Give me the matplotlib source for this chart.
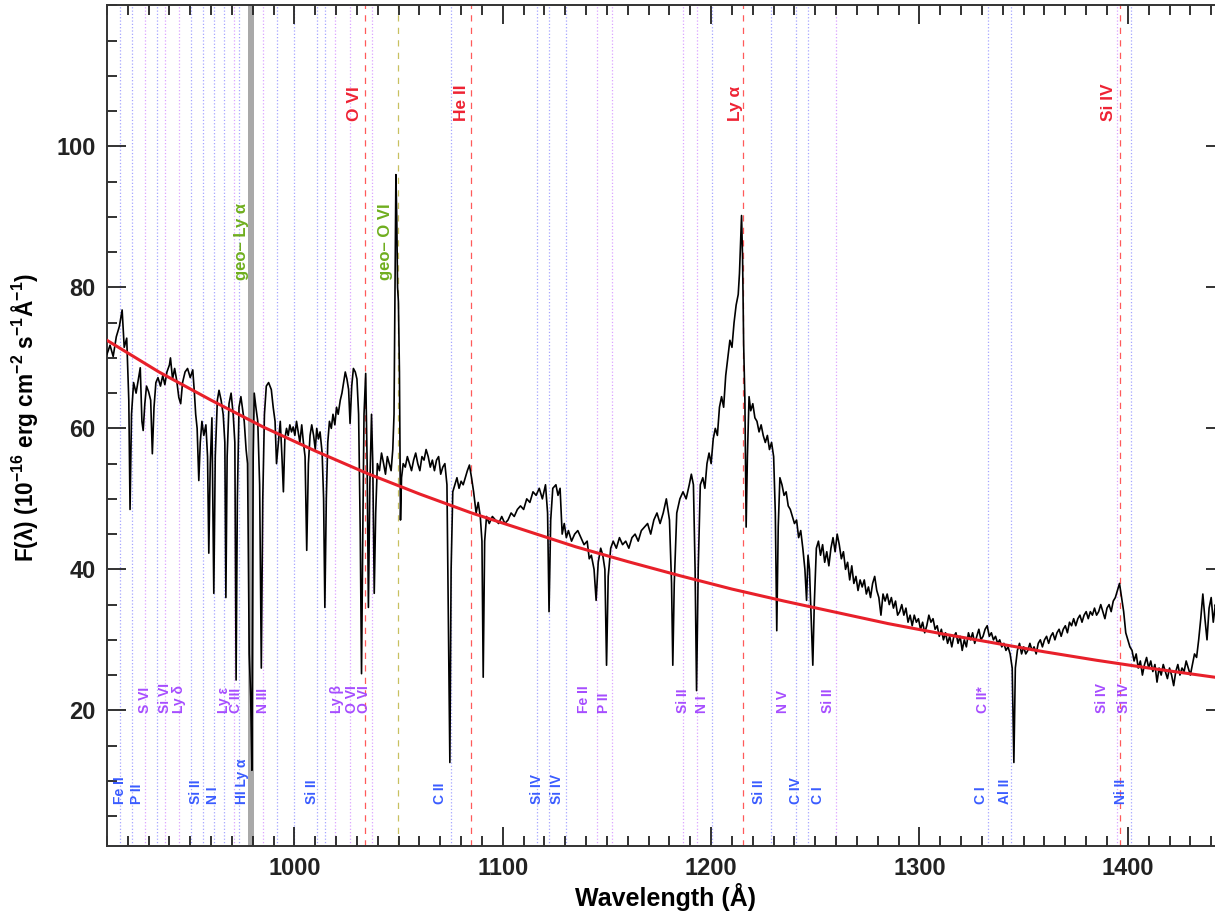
import matplotlib
matplotlib.use('Agg')
import matplotlib.pyplot as plt
from matplotlib.ticker import MultipleLocator

plt.rcParams['font.family'] = ['Liberation Sans', 'DejaVu Sans']
plt.rcParams['font.weight'] = 'bold'
plt.rcParams['mathtext.fontset'] = 'custom'
plt.rcParams['mathtext.rm'] = 'Liberation Sans:bold'
plt.rcParams['mathtext.bf'] = 'Liberation Sans:bold'
plt.rcParams['mathtext.default'] = 'bf'

# spectrum (wavelength in A, flux in 1e-16 erg/cm2/s/A)
wave = [910.0, 911.5, 913.0, 914.5, 916.0, 917.3, 918.3, 919.5, 920.5, 921.1, 921.8, 922.8, 924.0, 925.0, 926.0,
        926.8, 927.4, 928.2, 929.0, 930.0, 931.0, 931.8, 932.6, 933.5, 934.5, 935.7, 936.8, 937.8, 938.8, 940.0,
        940.5, 941.5, 942.5, 943.5, 944.5, 945.4, 946.3, 947.5, 948.7, 950.0, 951.2, 952.0, 952.6, 953.3, 954.1,
        954.8, 955.6, 956.5, 957.5, 958.3, 958.9, 959.6, 960.4, 961.3, 962.0, 963.0, 963.8, 964.8, 965.8, 966.6,
        967.1, 967.7, 968.6, 969.6, 970.6, 971.4, 972.0, 972.6, 973.4, 974.3, 975.2, 975.9, 976.8, 977.5, 978.3,
        979.0, 979.6, 980.2, 980.7, 981.5, 982.4, 983.3, 984.1, 984.8, 985.6, 986.5, 987.6, 988.9, 989.8, 990.7,
        991.4, 992.3, 993.2, 994.0, 994.7, 995.4, 996.2, 997.0, 997.8, 998.6, 999.4, 1000.2, 1001.0, 1001.8, 1002.6,
        1003.5, 1004.3, 1005.1, 1005.9, 1006.7, 1007.5, 1008.3, 1009.2, 1010.0, 1010.7, 1011.5, 1012.3, 1013.3, 1014.0, 1014.6,
        1015.3, 1016.0, 1016.8, 1017.7, 1018.5, 1019.4, 1020.2, 1021.0, 1022.0, 1022.8, 1023.6, 1024.4, 1025.2, 1026.0, 1026.7,
        1027.5, 1028.3, 1029.2, 1030.0, 1030.8, 1031.6, 1032.2, 1032.8, 1033.4, 1034.2, 1034.9, 1035.5, 1036.2, 1037.0, 1037.6,
        1038.3, 1039.0, 1039.8, 1040.8, 1041.8, 1042.8, 1043.7, 1044.6, 1045.5, 1046.4, 1047.2, 1047.8, 1048.3, 1048.7, 1049.1,
        1049.5, 1049.9, 1050.4, 1050.9, 1051.4, 1052.2, 1053.2, 1054.2, 1055.2, 1056.2, 1057.2, 1058.2, 1059.2, 1060.2, 1061.2,
        1062.2, 1063.2, 1064.2, 1065.2, 1066.2, 1067.2, 1068.2, 1069.2, 1070.2, 1071.2, 1072.2, 1073.2, 1074.0, 1074.6, 1075.2,
        1076.0, 1077.0, 1078.0, 1079.0, 1080.0, 1081.0, 1082.0, 1083.0, 1084.0, 1085.0, 1086.0, 1087.2, 1088.2, 1089.2, 1090.0,
        1090.6, 1091.3, 1092.2, 1093.5, 1095.0, 1096.5, 1098.0, 1099.5, 1101.0, 1102.5, 1104.0, 1105.5, 1107.0, 1108.5, 1110.0,
        1111.5, 1113.0, 1114.5, 1116.0, 1117.5, 1119.0, 1120.5, 1121.5, 1122.2, 1123.0, 1124.0, 1125.5, 1126.5, 1127.5, 1128.5,
        1129.5, 1130.5, 1131.5, 1133.0, 1134.5, 1136.0, 1137.5, 1139.0, 1140.5, 1141.5, 1142.5, 1143.8, 1144.8, 1145.8, 1147.0,
        1148.0, 1149.0, 1149.8, 1150.6, 1151.8, 1153.0, 1154.5, 1156.0, 1157.5, 1159.0, 1160.5, 1162.0, 1163.5, 1165.0, 1166.5,
        1168.0, 1169.5, 1171.0, 1172.5, 1174.0, 1175.5, 1177.0, 1178.5, 1180.0, 1181.0, 1181.6, 1182.3, 1183.5, 1185.0, 1186.5,
        1188.0, 1189.5, 1190.5, 1191.5, 1192.3, 1193.0, 1193.8, 1194.8, 1196.0, 1197.0, 1198.0, 1199.0, 1200.0, 1201.0, 1202.0,
        1203.0, 1204.0, 1205.0, 1206.0, 1207.0, 1208.0, 1209.0, 1210.0, 1211.0, 1212.0, 1213.0, 1213.6, 1214.1,
        1214.6, 1215.1, 1215.6, 1216.2, 1216.8, 1217.4, 1218.2, 1219.0,
        1220.0, 1221.0, 1222.0, 1223.0, 1224.0, 1225.0, 1226.0, 1227.0, 1228.0, 1229.0, 1230.0, 1230.8, 1231.5, 1232.2, 1233.0,
        1234.0, 1235.0, 1236.0, 1237.0, 1238.0, 1239.0, 1240.0, 1241.0, 1242.0, 1243.0, 1244.0, 1245.0, 1245.8, 1246.5, 1247.2,
        1248.0, 1248.8, 1249.5, 1250.5, 1251.5, 1252.5, 1253.5, 1254.5, 1255.5, 1256.5, 1257.5, 1258.5, 1259.5, 1260.5, 1261.5,
        1262.5, 1263.5, 1264.5, 1265.5, 1266.5, 1267.5, 1268.5, 1269.5, 1270.5, 1271.5, 1272.5, 1273.5, 1274.5, 1275.5, 1276.5,
        1277.5, 1278.5, 1279.5, 1280.5, 1281.5, 1282.5, 1283.5, 1284.5, 1285.5, 1286.5, 1287.5, 1288.5, 1289.5, 1290.5, 1291.5,
        1292.5, 1293.5, 1294.5, 1295.5, 1296.5, 1297.5, 1298.5, 1299.5, 1300.5, 1301.5, 1302.5, 1303.5, 1304.5, 1305.5, 1306.5,
        1307.5, 1308.5, 1309.5, 1310.5, 1311.5, 1312.5, 1313.5, 1314.5, 1315.5, 1316.5, 1317.5, 1318.5, 1319.5, 1320.5, 1321.5,
        1322.5, 1323.5, 1324.5, 1325.5, 1326.5, 1327.5, 1328.5, 1329.5, 1330.5, 1331.5, 1332.5, 1333.5, 1334.5, 1335.5, 1336.5,
        1337.5, 1338.5, 1339.5, 1340.5, 1341.5, 1342.5, 1343.5, 1344.5, 1345.3, 1346.0, 1347.0, 1348.0, 1349.0, 1350.0, 1351.0,
        1352.0, 1353.0, 1354.0, 1355.0, 1356.0, 1357.0, 1358.0, 1359.0, 1360.0, 1361.0, 1362.0, 1363.0, 1364.0, 1365.0, 1366.0,
        1367.0, 1368.0, 1369.0, 1370.0, 1371.0, 1372.0, 1373.0, 1374.0, 1375.0, 1376.0, 1377.0, 1378.0, 1379.0, 1380.0, 1381.0,
        1382.0, 1383.0, 1384.0, 1385.0, 1386.0, 1387.0, 1388.0, 1389.0, 1390.0, 1391.0, 1392.0, 1393.0, 1394.0, 1395.0, 1396.0,
        1397.0, 1398.0, 1399.0, 1400.0, 1401.0, 1402.0, 1403.0, 1404.0, 1405.0, 1406.0, 1407.0, 1408.0, 1409.0, 1410.0, 1411.0,
        1412.0, 1413.0, 1414.0, 1415.0, 1416.0, 1417.0, 1418.0, 1419.0, 1420.0, 1421.0, 1422.0, 1423.0, 1424.0, 1425.0, 1426.0,
        1427.0, 1428.0, 1429.0, 1430.0, 1431.0, 1432.0, 1433.0, 1434.0, 1435.0, 1436.0, 1437.0, 1438.0, 1439.0, 1440.0, 1441.0,
        1442.0, 1443.0, 1444.0, 1445.0, 1446.5]
flux = [70.5, 71.8, 70.2, 73.0, 74.5, 76.8, 71.5, 72.8, 64.0, 48.5, 62.0, 66.5, 65.0, 66.8, 68.6,
        61.0, 59.7, 63.5, 66.0, 65.2, 64.0, 56.4, 63.0, 66.5, 67.2, 66.0, 67.5, 66.2, 68.0, 69.0,
        70.0, 67.0, 68.5, 66.8, 64.4, 63.5, 66.5, 68.0, 68.5, 67.2, 68.3, 65.0, 62.0, 60.0, 52.6,
        58.0, 61.0, 59.0, 60.5, 56.0, 42.3, 55.0, 61.5, 36.6, 56.0, 64.0, 65.4, 64.0, 62.0, 58.0,
        36.0, 56.0, 63.5, 65.0, 62.0, 58.0, 24.3, 50.0, 63.0, 64.5, 62.5, 61.0, 57.0, 55.0, 28.0,
        22.0, 11.5, 56.0, 65.0, 63.0, 61.0, 52.0, 26.0, 50.0, 62.0, 66.0, 66.5, 65.5, 63.0, 61.0,
        55.0, 58.0, 61.0, 56.0, 51.0, 58.5, 60.0, 59.0, 60.5, 59.5, 60.2, 59.0, 61.0, 59.5, 58.0,
        60.5, 58.0, 56.0, 42.7, 55.0, 59.0, 60.5, 59.0, 57.0, 60.0, 58.5, 59.5, 56.5, 50.0, 34.6,
        50.0, 58.0, 61.0, 60.0, 62.0, 60.5, 63.0, 62.0, 64.0, 65.0, 66.5, 68.0, 67.0, 65.5, 60.7,
        66.0, 68.5, 68.0, 67.0, 62.0, 45.0, 25.2, 45.0, 62.0, 67.8, 55.0, 34.6, 52.0, 62.0, 55.0,
        36.6, 48.0, 55.0, 54.0, 56.5, 55.0, 53.5, 56.0, 55.0, 54.0, 57.0, 62.0, 80.0, 96.0, 90.0,
        80.0, 78.0, 68.0, 47.0, 53.0, 55.0, 54.5, 56.0, 55.0, 54.0, 55.5, 56.5, 55.0, 54.0, 56.0,
        55.5, 57.0, 56.0, 54.5, 55.5, 54.0, 55.5, 56.0, 53.5, 54.5, 55.0, 52.0, 30.0, 12.6, 40.0,
        51.0, 52.0, 53.0, 51.5, 52.5, 52.0, 53.0, 54.0, 54.8, 53.0, 51.0, 48.0, 49.5, 47.5, 44.0,
        24.7, 44.0, 47.5, 46.5, 47.5, 47.0, 46.5, 47.5, 46.5, 47.0, 48.0, 47.5, 48.5, 49.0, 48.5,
        50.0, 49.5, 51.0, 50.5, 51.5, 50.0, 52.0, 48.0, 34.0, 47.0, 51.5, 52.0, 50.5, 51.5, 45.0,
        46.5, 44.5, 45.5, 44.0, 45.0, 45.5, 44.5, 43.5, 44.0, 41.5, 42.0, 40.0, 35.6, 41.0, 43.0,
        42.0, 40.0, 26.4, 39.0, 43.0, 44.0, 43.0, 44.5, 43.5, 44.0, 43.0, 44.5, 45.0, 44.0, 45.5,
        46.0, 46.5, 45.0, 47.0, 48.0, 46.5, 48.0, 50.0, 47.0, 38.0, 26.4, 38.0, 48.0, 50.0, 51.0,
        50.0, 52.0, 53.5, 52.0, 40.0, 22.8, 40.0, 52.0, 53.0, 51.5, 55.0, 56.5, 55.0, 58.5, 60.0,
        59.0, 63.0, 64.5, 63.0, 67.5, 70.0, 72.5, 71.5, 75.0, 77.5, 79.0, 82.0, 86.0,
        90.2, 84.0, 72.0, 64.0, 46.0, 56.0, 64.5, 62.5,
        63.5, 61.5, 61.0, 59.5, 60.5, 59.0, 58.0, 59.0, 57.0, 58.0, 56.0, 48.0, 31.3, 46.0, 53.0,
        52.0, 50.5, 51.0, 49.0, 48.5, 47.5, 46.5, 47.0, 44.5, 45.5, 43.0, 40.0, 35.6, 42.0, 40.0,
        33.0, 26.4, 35.0, 43.0, 44.0, 42.0, 43.5, 41.0, 42.5, 40.5, 43.0, 44.5, 42.5, 45.0, 43.5,
        41.5, 42.5, 40.0, 41.0, 38.5, 40.5, 38.0, 39.0, 37.0, 38.5, 37.5, 38.5, 36.5, 37.5, 36.0,
        38.0, 39.0, 37.0, 36.0, 33.5, 36.5, 35.5, 36.5, 35.0, 36.0, 34.5, 35.5, 33.5, 34.0, 35.0,
        33.5, 34.5, 32.5, 33.5, 32.0, 33.5, 32.5, 33.0, 31.5, 32.5, 31.0, 32.0, 33.5, 32.5, 33.0,
        31.5, 32.0, 30.5, 31.5, 30.0, 31.0, 29.5, 30.5, 29.0, 30.5, 31.0, 29.5, 30.5, 28.5, 30.0,
        29.0, 31.0, 30.0, 31.0, 29.5, 30.5, 31.5, 30.0, 30.5, 31.5, 32.0, 30.5, 31.0, 30.0, 30.5,
        29.5, 30.0, 29.0, 29.5, 28.5, 29.0, 28.0, 26.0, 12.6, 26.0, 28.5, 29.5, 28.0, 29.0, 28.0,
        28.5, 29.5, 28.5, 29.0, 28.0, 29.5, 30.0, 29.0, 30.0, 30.5, 29.5, 30.5, 31.0, 30.0, 31.0,
        31.5, 30.5, 31.5, 32.0, 31.0, 32.5, 32.0, 33.0, 32.0, 33.0, 33.5, 32.5, 33.5, 34.0, 33.0,
        34.0, 33.5, 34.5, 33.5, 34.0, 35.0, 34.0, 33.0, 34.5, 35.0, 34.0, 35.5, 36.0, 37.0, 38.0,
        36.0, 34.0, 31.0, 30.0, 29.0, 28.5, 27.0, 28.0, 26.0, 27.0, 25.0, 26.5, 27.5, 26.0, 27.0,
        25.5, 26.5, 24.0, 26.0, 25.0, 26.5, 25.5, 24.5, 26.0, 25.0, 23.5, 25.5, 26.5, 25.0, 26.0,
        25.5, 27.0, 26.0, 25.0, 26.5, 28.0, 27.5, 30.0, 33.0, 36.5, 33.0, 30.0, 34.5, 36.0, 32.5,
        35.0, 33.5, 31.0, 34.0, 32.0]

# continuum fit (red curve)
cont_wave = [910, 935, 960, 985, 1010, 1035, 1060, 1085, 1110, 1135, 1160, 1185, 1210, 1235, 1260, 1285,
             1310, 1335, 1360, 1385, 1410, 1446.5]
cont_flux = [72.5, 68.0, 64.0, 60.2, 56.8, 53.6, 50.7, 48.0, 45.6, 43.2, 41.1, 39.1, 37.2, 35.5, 33.9, 32.3,
             30.9, 29.6, 28.3, 27.1, 26.0, 24.5]

# line markers
ism_lines = [916.3, 922.1, 934.2, 950.2, 956.0, 961.3, 966.2, 973.4, 991.4, 999.6, 1010.7, 1014.6, 1075.0,
             1116.3, 1122.1, 1130.3, 1200.6, 1228.6, 1240.7, 1246.6, 1332.8, 1343.9, 1401.5]
intr_lines = [928.4, 938.0, 944.4, 971.0, 985.0, 1019.4, 1026.7, 1037.4, 1145.3, 1152.6, 1186.5, 1193.3,
              1260.1, 1394.7]
emis_lines = [1034.0, 1084.7, 1215.5, 1396.0]
geo_lines = [1049.5]
geo_band = (977.8, 980.7)

ism_labels = ['Fe II', 'P II', 'Si II', 'N I', 'HI Ly α', 'Si II', 'C II', 'Si IV', 'Si IV', 'Si II',
              'C IV', 'C I', 'C I', 'Al II', 'Ni II']
ism_label_x = [916.3, 924.5, 952.6, 960.8, 974.6, 1008.3, 1069.7, 1116.2, 1125.9, 1222.8,
               1240.7, 1251.4, 1329.4, 1341.0, 1396.7]
intr_labels = ['S VI', 'Si VI', 'Ly δ', 'Ly ε', 'C III', 'N III', 'Ly β', 'O VI', 'O VI', 'Fe II', 'P II',
               'Si II', 'N I', 'N V', 'Si II', 'C II*', 'Si IV', 'Si IV']
intr_label_x = [928.4, 938.0, 944.4, 966.0, 971.8, 985.0, 1020.4, 1027.6, 1033.5, 1139.0, 1148.7,
                1186.5, 1195.6, 1234.4, 1256.2, 1330.3, 1387.5, 1398.1]
emis_labels = ['O VI', 'He II', 'Ly α', 'Si IV']
emis_label_x = [1028.6, 1080.0, 1211.7, 1390.9]
geo_labels = ['geo– Ly α', 'geo– O VI']
geo_label_x = [974.4, 1043.7]

fig = plt.figure(figsize=(12.15, 9.13), dpi=100)
ax = fig.add_axes([0.088, 0.073, 0.92, 0.921])

for w in ism_lines:
    ax.axvline(w, color='#8f8fff', ls=':', lw=0.9, alpha=0.8, zorder=1)
for w in intr_lines:
    ax.axvline(w, color='#d38cff', ls=':', lw=0.9, alpha=0.8, zorder=1)
for w in emis_lines:
    ax.axvline(w, color='#ff5a5a', ls=(0, (5, 5)), lw=0.9, zorder=1)
for w in geo_lines:
    ax.axvline(w, color='#c8c060', ls=(0, (5, 5)), lw=0.9, zorder=1)
ax.axvspan(geo_band[0], geo_band[1], color='#9a9a9a', alpha=0.85, lw=0, zorder=1)

ax.plot(wave, flux, color='black', lw=1.2, zorder=3)
ax.plot(cont_wave, cont_flux, color='#e8202a', lw=2.2, zorder=4)

for t, x in zip(ism_labels, ism_label_x):
    ax.text(x, 6.7, t, rotation=90, color='#3a5cff', fontsize=10, fontweight='bold',
            ha='center', va='bottom', zorder=5)
for t, x in zip(intr_labels, intr_label_x):
    ax.text(x, 19.6, t, rotation=90, color='#a64dff', fontsize=10, fontweight='bold',
            ha='center', va='bottom', zorder=5)
for t, x in zip(emis_labels, emis_label_x):
    ax.text(x, 103.6, t, rotation=90, color='#ee2233', fontsize=12.5, fontweight='bold',
            ha='center', va='bottom', zorder=5)
for t, x in zip(geo_labels, geo_label_x):
    ax.text(x, 81.0, t, rotation=90, color='#6fae1e', fontsize=12, fontweight='bold',
            ha='center', va='bottom', zorder=5)

ax.set_xlim(910, 1446.5)
ax.set_ylim(0.7, 120)
ax.xaxis.set_major_locator(MultipleLocator(100))
ax.xaxis.set_minor_locator(MultipleLocator(10))
ax.yaxis.set_major_locator(MultipleLocator(20))
ax.yaxis.set_minor_locator(MultipleLocator(5))
ax.set_yticks([20, 40, 60, 80, 100])
ax.tick_params(which='both', direction='in', top=True, right=True, width=1.3, colors='#222222')
ax.tick_params(which='major', length=14, labelsize=17, pad=8)
ax.tick_params(which='minor', length=7)
for lab in ax.get_xticklabels() + ax.get_yticklabels():
    lab.set_fontweight('bold')
for s in ax.spines.values():
    s.set_linewidth(1.4)
    s.set_color('#333333')

ax.set_xlabel('Wavelength (Å)', fontsize=18, fontweight='bold', labelpad=2)
ax.set_ylabel(r'F(λ) (10$^{-16}$ erg cm$^{-2}$ s$^{-1}$Å$^{-1}$)', fontsize=16.3, fontweight='bold')
ax.yaxis.set_label_coords(-0.06, 0.51)

plt.savefig('out.png', dpi=100)
